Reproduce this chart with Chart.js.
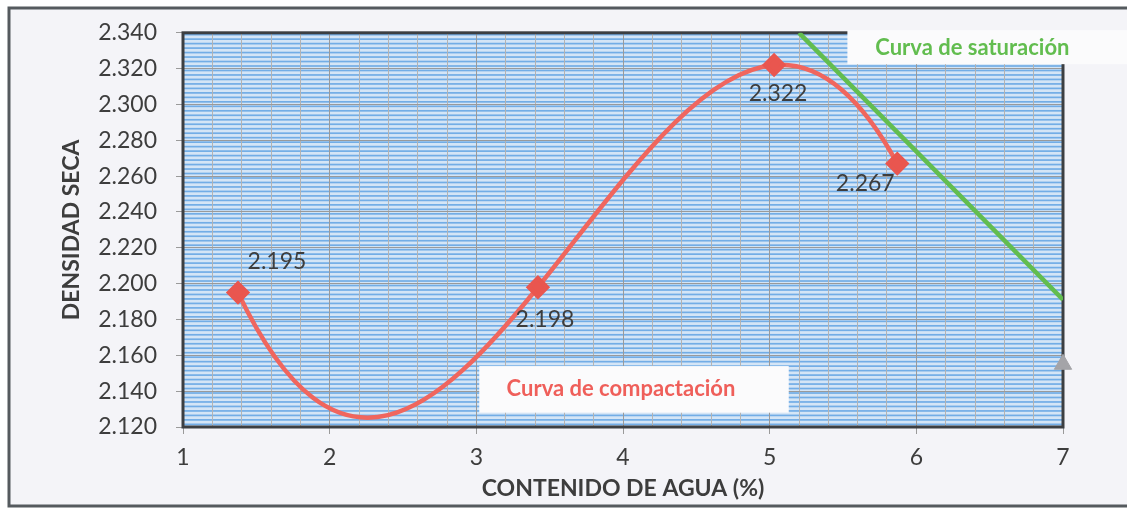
<!DOCTYPE html>
<html>
<head>
<meta charset="utf-8">
<script src="https://cdn.jsdelivr.net/npm/chart.js@4.4.1/dist/chart.umd.min.js"></script>
<style>
  html, body { margin: 0; background: #fff; }
  canvas { display: block; }
</style>
</head>
<body>
<canvas id="grafico" width="1127" height="509"></canvas>
<script>
// Datos
const humedad = [1.375, 3.42, 5.03, 5.87]          // contenido de agua (%)
const densidad = [2.195, 2.198, 2.322, 2.267]      // densidad seca
const saturacionX = [5.2, 7.0]
const saturacionY = [2.340, 2.191]
const extraX = [7.0]
const extraY = [2.155]

const ejeX = { min: 1, max: 7, paso: 0.2 }
const ejeY = { min: 2.12, max: 2.34, paso: 0.02 }

// desplazamiento de las etiquetas de valor (px)
const desplazEtiquetas = [[39, -31], [7, 32], [4, 29], [-32, 20]]

const fuente = "Lato, 'Open Sans', sans-serif"
const gris = "#3d3d3d"

// Coeficientes de Newton del polinomio que pasa por los puntos (curva de Excel)
function coefNewton(xs, ys) {
  const c = ys.slice()
  for (let j = 1; j < xs.length; j++) {
    for (let i = xs.length - 1; i >= j; i--) {
      c[i] = (c[i] - c[i - 1]) / (xs[i] - xs[i - j])
    }
  }
  return c
}
const coef = coefNewton(humedad, densidad)
function pendiente(x) {
  let p = coef[coef.length - 1]
  let dp = 0
  for (let k = coef.length - 2; k >= 0; k--) {
    dp = dp * (x - humedad[k]) + p
    p = p * (x - humedad[k]) + coef[k]
  }
  return dp
}

// Fondo, marco exterior y rayado del area de trazado
const fondo = {
  id: "fondo",
  beforeDraw(chart) {
    const { ctx, chartArea: a } = chart
    ctx.save()
    ctx.fillStyle = "#ffffff"
    ctx.fillRect(0, 0, chart.width, chart.height)
    ctx.fillStyle = "#f4f4f8"
    ctx.fillRect(9, 8, chart.width, 498)
    ctx.strokeStyle = "#555a5e"
    ctx.lineWidth = 3
    ctx.strokeRect(9, 8, chart.width + 10, 498)
    ctx.fillStyle = "#d4e5f6"
    ctx.fillRect(a.left, a.top, a.width, a.height)
    ctx.fillStyle = "#72ade6"
    const paso = (chart.scales.y.getPixelForValue(2.12) - chart.scales.y.getPixelForValue(2.14)) / 8
    for (let y = a.top + 1; y < a.bottom; y += paso) {
      ctx.fillRect(a.left, y, a.width, 1.7)
    }
    ctx.restore()
  },
  beforeDatasetsDraw(chart) {
    const { ctx, chartArea: a } = chart
    ctx.save()
    ctx.strokeStyle = "#3c3f42"
    ctx.lineWidth = 3
    ctx.strokeRect(a.left, a.top, a.width, a.height)
    ctx.restore()
  },
}

// Curva polinomica: puntos de control de Bezier a partir del polinomio
const curvaSuave = {
  id: "curvaSuave",
  beforeDatasetDraw(chart, args) {
    if (args.index !== 0) return
    const pts = args.meta.data
    const sx = chart.scales.x
    const sy = chart.scales.y
    args.meta.dataset.updateControlPoints(chart.chartArea, "x")
    for (let i = 0; i < pts.length - 1; i++) {
      const h = humedad[i + 1] - humedad[i]
      pts[i].cp2x = sx.getPixelForValue(humedad[i] + h / 3)
      pts[i].cp2y = sy.getPixelForValue(densidad[i] + (pendiente(humedad[i]) * h) / 3)
      pts[i + 1].cp1x = sx.getPixelForValue(humedad[i + 1] - h / 3)
      pts[i + 1].cp1y = sy.getPixelForValue(densidad[i + 1] - (pendiente(humedad[i + 1]) * h) / 3)
    }
  },
}

// Etiquetas de valor y cuadros de texto
const textos = {
  id: "textos",
  afterDraw(chart) {
    const { ctx } = chart
    const sx = chart.scales.x
    const sy = chart.scales.y
    const meta = chart.getDatasetMeta(0)
    ctx.save()
    ctx.font = "23px " + fuente
    ctx.fillStyle = gris
    ctx.textAlign = "center"
    ctx.textBaseline = "middle"
    meta.data.forEach((p, i) => {
      const d = desplazEtiquetas[i]
      ctx.fillText(densidad[i].toFixed(3), p.x + d[0], p.y + d[1])
    })

    // Curva de compactacion
    let x0 = sx.getPixelForValue(3.02)
    let x1 = sx.getPixelForValue(5.13)
    let y0 = sy.getPixelForValue(2.154)
    let y1 = sy.getPixelForValue(2.128)
    ctx.fillStyle = "#fbfbfc"
    ctx.fillRect(x0, y0, x1 - x0, y1 - y0)
    ctx.font = "bold 22px " + fuente
    ctx.fillStyle = "#ef5f5a"
    ctx.fillText("Curva de compactación", (x0 + x1) / 2 - 13, (y0 + y1) / 2)

    // Curva de saturacion
    x0 = sx.getPixelForValue(5.53)
    x1 = chart.width
    y0 = sy.getPixelForValue(2.3415)
    y1 = sy.getPixelForValue(2.3225)
    ctx.fillStyle = "#fbfbfc"
    ctx.fillRect(x0, y0, x1 - x0, y1 - y0)
    ctx.fillStyle = "#62bd4f"
    ctx.fillText("Curva de saturación", x0 + 125, (y0 + y1) / 2 + 1)
    ctx.restore()
  },
}

const esEntero = (v) => Math.abs(v - Math.round(v)) < 1e-6

new Chart(document.getElementById("grafico"), {
  type: "scatter",
  data: {
    datasets: [
      {
        label: "Curva de compactación",
        data: humedad.map((x, i) => ({ x, y: densidad[i] })),
        showLine: true,
        tension: 0.4,
        borderColor: "#f0665e",
        borderWidth: 4.5,
        pointStyle: "rectRot",
        pointRadius: 9,
        pointBackgroundColor: "#e9564f",
        pointBorderColor: "#e9564f",
        order: 1,
      },
      {
        label: "Curva de saturación",
        data: saturacionX.map((x, i) => ({ x, y: saturacionY[i] })),
        showLine: true,
        borderColor: "#62bd4f",
        borderWidth: 4.5,
        pointRadius: 0,
        order: 2,
      },
      {
        label: "",
        data: extraX.map((x, i) => ({ x, y: extraY[i] })),
        pointStyle: "triangle",
        pointRadius: 10,
        pointBackgroundColor: "#a4a4a8",
        pointBorderColor: "#a4a4a8",
        clip: false,
        order: 0,
      },
    ],
  },
  options: {
    responsive: false,
    animation: false,
    layout: { padding: { left: 10, right: 64, top: 28, bottom: 0 } },
    plugins: {
      legend: { display: false },
      tooltip: { enabled: false },
    },
    scales: {
      x: {
        type: "linear",
        min: ejeX.min,
        max: ejeX.max,
        afterFit: (s) => { s.height = 82 },
        border: { display: false },
        grid: {
          color: (c) => (c.tick && esEntero(c.tick.value) ? "#9a9a9a" : "#b3b3b3"),
          tickColor: (c) => (c.tick && esEntero(c.tick.value) ? "#9a9a9a" : "rgba(0,0,0,0)"),
          tickLength: 7,
        },
        ticks: {
          stepSize: ejeX.paso,
          autoSkip: false,
          maxRotation: 0,
          padding: 10,
          color: gris,
          font: { family: fuente, size: 23 },
          callback: (v) => (esEntero(v) ? String(Math.round(v)) : ""),
        },
        title: {
          display: true,
          text: "CONTENIDO DE AGUA (%)",
          color: gris,
          font: { family: fuente, size: 23, weight: "bold" },
          padding: { top: 0, bottom: 7 },
        },
      },
      y: {
        min: ejeY.min,
        max: ejeY.max,
        afterFit: (s) => { s.width = 173 },
        border: { display: false },
        grid: { color: "#9a9a9a", tickColor: "#9a9a9a", tickLength: 7 },
        ticks: {
          stepSize: ejeY.paso,
          padding: 19,
          color: gris,
          font: { family: fuente, size: 23 },
          callback: (v) => v.toFixed(3),
        },
        title: {
          display: true,
          text: "DENSIDAD SECA",
          color: gris,
          font: { family: fuente, size: 23, weight: "bold" },
          padding: { top: 48, bottom: 0 },
        },
      },
    },
  },
  plugins: [fondo, curvaSuave, textos],
})
</script>
</body>
</html>
